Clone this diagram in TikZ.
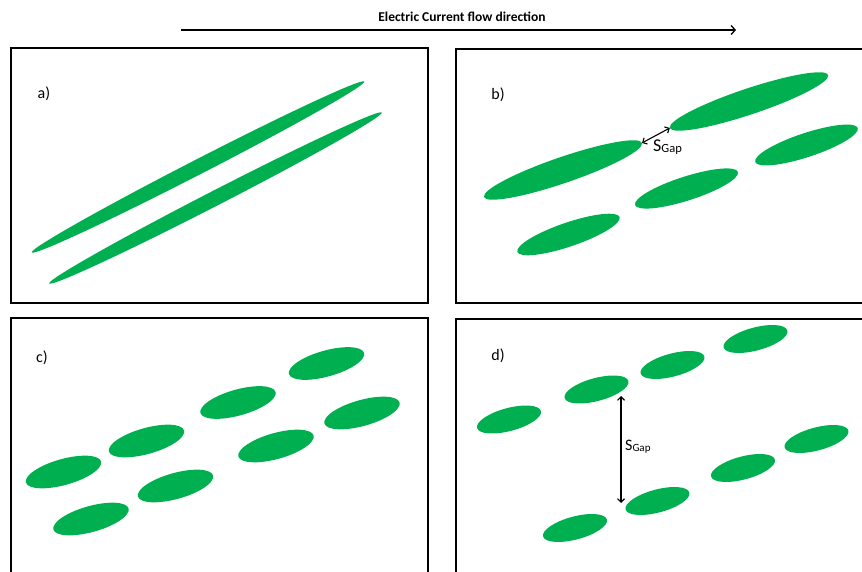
\documentclass[tikz,border=0pt]{standalone}
\usepackage{fontspec}
\setmainfont{Carlito}
\usetikzlibrary{shapes.geometric,arrows.meta}
\definecolor{lgreen}{RGB}{0,176,80}
\tikzset{
  blob/.style={ellipse, fill=lgreen, draw=none, inner sep=0pt, outer sep=0pt},
  panel/.style={draw=black, line width=2pt},
  lbl/.style={font=\fontsize{16}{18}\selectfont, inner sep=0pt},
  flowarrow/.style={line width=1.3pt, -{Straight Barb[length=4pt,width=9pt]}},
  gaparrow/.style={line width=1.1pt, {Straight Barb[length=3.5pt,width=7pt]}-{Straight Barb[length=3.5pt,width=7pt]}},
  gaplbl/.style={inner sep=0pt, anchor=west}
}
\begin{document}
\begin{tikzpicture}[x=1pt,y=-1pt]
\useasboundingbox[fill=white] (0,0) rectangle (862,572);
% title
\node[font=\bfseries\fontsize{13.5}{15}\selectfont, inner sep=0pt] (title) at (462,17) {Electric Current flow direction};
\coordinate (arrS) at (181,30);
\coordinate (arrE) at (736,30);
\draw[flowarrow] (arrS) -- (arrE);
% panels
\draw[panel] (11,48) rectangle (428,303);
\draw[panel] (456,49) rectangle (868,303);
\draw[panel] (11,318) rectangle (428,578);
\draw[panel] (456,319) rectangle (868,578);
% labels
\node[lbl] (la) at (44,94) {a)};
\node[lbl] (lb) at (498,95) {b)};
\node[lbl] (lc) at (42,358) {c)};
\node[lbl] (ld) at (498,356) {d)};
% panel a
\node[blob, minimum width=374pt, minimum height=15pt, rotate=27.2] (a1) at (198,167) {};
\node[blob, minimum width=374pt, minimum height=15pt, rotate=27.2] (a2) at (215.5,198) {};
% panel b
\node[blob, minimum width=167pt, minimum height=26pt, rotate=18.9] (b1) at (563,170) {};
\node[blob, minimum width=167pt, minimum height=26pt, rotate=18.5] (b2) at (749,101.5) {};
\node[blob, minimum width=108pt, minimum height=24pt, rotate=18.3] (b3) at (806.5,145) {};
\node[blob, minimum width=108pt, minimum height=24pt, rotate=17.8] (b4) at (686.5,188.5) {};
\node[blob, minimum width=108pt, minimum height=24pt, rotate=18.8] (b5) at (568.5,234.5) {};
\draw[gaparrow] (b1.east) -- (b2.west);
\node[gaplbl] (sgb) at (653,147) {{\fontsize{18}{18}\selectfont S}\raisebox{-1pt}{\fontsize{12.5}{12.5}\selectfont Gap}};
% panel c
\foreach \n/\cx/\cy in {c1/63.5/472, c2/146.5/441, c3/238/402.5, c4/326.5/363.5, c5/91/519, c6/175.5/486, c7/276/446, c8/362/413}{
  \node[blob, minimum width=78pt, minimum height=26pt, rotate=15.6] (\n) at (\cx,\cy) {};
}
% panel d
\foreach \n/\cx/\cy in {d1/509/419.5, d2/596.5/389.5, d3/672.5/365, d4/755.5/339, d5/575/528, d6/657.5/501, d7/743/468, d8/816.5/439}{
  \node[blob, minimum width=66pt, minimum height=23pt, rotate=14.9] (\n) at (\cx,\cy) {};
}
\coordinate (dgTop) at (621,396);
\coordinate (dgBot) at (621,503);
\draw[gaparrow] (dgTop) -- (dgBot);
\node[gaplbl] (sgd) at (625,447) {{\fontsize{16}{16}\selectfont S}\raisebox{-1pt}{\fontsize{11}{11}\selectfont Gap}};
\end{tikzpicture}
\end{document}
